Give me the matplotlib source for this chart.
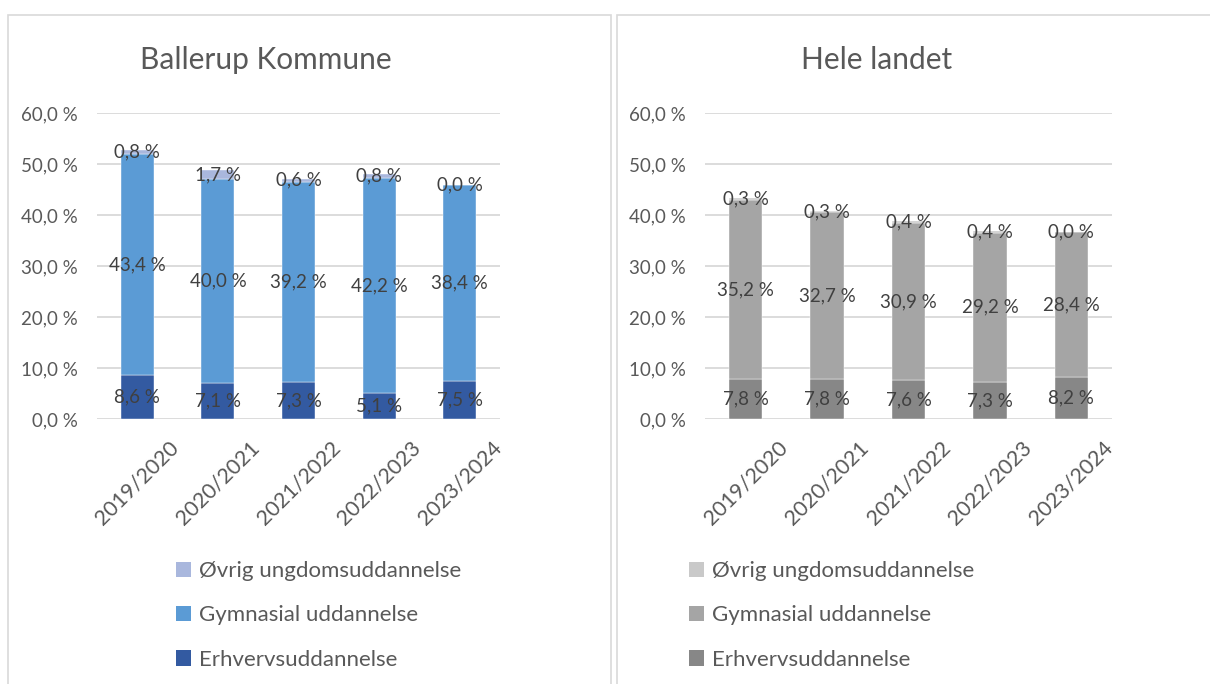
import matplotlib
matplotlib.use("Agg")
import matplotlib.pyplot as plt
from matplotlib.patches import Rectangle, Patch

plt.rcParams['font.family'] = ['Lato', 'DejaVu Sans']

years = ["2019/2020", "2020/2021", "2021/2022", "2022/2023", "2023/2024"]
series_names = ["Erhvervsuddannelse", "Gymnasial uddannelse", "Øvrig ungdomsuddannelse"]

ballerup_erhverv = [8.6, 7.1, 7.3, 5.1, 7.5]
ballerup_gym = [43.4, 40.0, 39.2, 42.2, 38.4]
ballerup_ovrig = [0.8, 1.7, 0.6, 0.8, 0.0]

land_erhverv = [7.8, 7.8, 7.6, 7.3, 8.2]
land_gym = [35.2, 32.7, 30.9, 29.2, 28.4]
land_ovrig = [0.3, 0.3, 0.4, 0.4, 0.0]

yticks = [0, 10, 20, 30, 40, 50, 60]

W, H = 1210, 684
fig = plt.figure(figsize=(W / 100, H / 100), dpi=100)

def fx(px):
    return px / W

def fy(py):
    return 1 - py / H

# panel borders
for x0, x1 in [(8, 611), (617, 1214)]:
    fig.add_artist(Rectangle((fx(x0), fy(700)), fx(x1 - x0), (700 - 15) / H,
                             transform=fig.transFigure, fill=False,
                             edgecolor="#D9D9D9", linewidth=1.2))

def fmt(v):
    return f"{v:.1f}".replace(".", ",") + " %"

def panel(left_px, right_px, title, title_cx, data, colors, legend_x):
    ax = fig.add_axes([fx(left_px), fy(419), fx(right_px - left_px), (419 - 113) / H])
    x = list(range(len(years)))
    bottom = [0.0] * len(years)
    handles = []
    for vals, col, name in zip(data, colors, series_names):
        ax.bar(x, vals, width=0.41, bottom=bottom, color=col, label=name,
               edgecolor="white", linewidth=0.3, zorder=3)
        for xi, b, v in zip(x, bottom, vals):
            ax.text(xi, b + v / 2, fmt(v), ha="center", va="center",
                    fontsize=13.5, color="#404040", zorder=5)
        bottom = [b + v for b, v in zip(bottom, vals)]
        handles.append(Patch(facecolor=col, label=name))
    ax.set_xlim(-0.5, len(years) - 0.5)
    ax.set_ylim(0, 60)
    ax.set_yticks(yticks)
    ax.set_yticklabels([fmt(t) for t in yticks], fontsize=13.5, color="#595959")
    ax.grid(axis="y", color="#D9D9D9", linewidth=1.3, zorder=0)
    ax.set_axisbelow(True)
    for s in ax.spines.values():
        s.set_visible(False)
    ax.tick_params(axis="both", length=0)
    ax.tick_params(axis="y", pad=14)
    ax.set_xticks(x)
    ax.set_xticklabels(years, rotation=45, ha="center", va="top",
                       fontsize=15.5, color="#595959")
    ax.tick_params(axis="x", pad=13)
    fig.text(fx(title_cx), fy(60), title, ha="center", va="center",
             fontsize=21.5, color="#595959")
    leg = fig.legend(handles[::-1], [h.get_label() for h in handles[::-1]],
                     loc="upper left", bbox_to_anchor=(fx(legend_x), fy(561)),
                     frameon=False, fontsize=16, handlelength=0.68,
                     handleheight=0.68, handletextpad=0.35, labelspacing=1.1,
                     borderaxespad=0, borderpad=0)
    for t in leg.get_texts():
        t.set_color("#595959")
    return ax

panel(97, 500, "Ballerup Kommune", 266,
      [ballerup_erhverv, ballerup_gym, ballerup_ovrig],
      ["#335AA1", "#5B9BD5", "#A9B7DD"], 176)
panel(705, 1112, "Hele landet", 877,
      [land_erhverv, land_gym, land_ovrig],
      ["#878787", "#A5A5A5", "#C9C9C9"], 689)

fig.savefig("out.png", dpi=100)
